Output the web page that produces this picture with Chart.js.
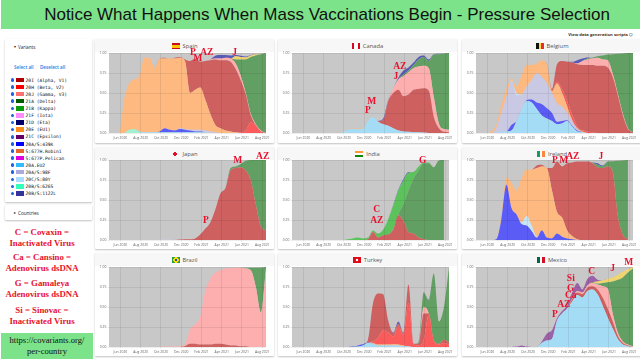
<!DOCTYPE html>
<html>
<head>
<meta charset="utf-8">
<title>Notice What Happens When Mass Vaccinations Begin</title>
<script src="https://cdn.jsdelivr.net/npm/chart.js@4"></script>
<style>
  html, body { margin: 0; padding: 0; background: #fff; overflow: hidden; }
  body { width: 640px; height: 359px; position: relative; font-family: "Open Sans", sans-serif; }
  #banner { position: absolute; left: 1px; top: 0; width: 639px; height: 29px; background: #7de38a;
    font: 17px/30px "Liberation Sans", sans-serif; color: #111; text-align: center; text-indent: 13px; white-space: nowrap; }
  #scripts { position: absolute; right: 7px; top: 31.5px; font: bold 4.2px/6px "Open Sans", sans-serif; color: #333; }
  .panel { position: absolute; background: #fff; box-shadow: 0 1px 2px rgba(0,0,0,.25); border-radius: 1px; }
  .side { position: absolute; left: 5px; width: 87px; background: #fff; box-shadow: 0 1px 2px rgba(0,0,0,.25); border-radius: 1px; }
  .head { position: absolute; left: 0; top: 0; right: 0; height: 13px; background: #f7f7f7; display: flex;
    align-items: center; justify-content: center; font-size: 5.8px; color: #555; }
  .flag { width: 8px; height: 6px; margin-right: 3px; }
  .panel canvas { position: absolute; left: 0; top: 0; }
  .row { position: absolute; left: 0; height: 7px; font: 4.6px/7px "DejaVu Sans Mono", monospace; color: #111; white-space: nowrap; }
  .dot { position: absolute; left: 5.6px; top: 1.6px; width: 3.6px; height: 3.6px; border-radius: 50%; background: #1f5fe0; }
  .swatch { position: absolute; left: 11px; top: 1.2px; width: 8px; height: 4.4px; }
  .name { position: absolute; left: 20.6px; top: 0; }
  .small { position: absolute; font-size: 4.6px; line-height: 6px; color: #222; white-space: nowrap; }
  .link { color: #1e78e6; font-weight: 600; }
  #vaccines div { position: absolute; left: 0; width: 84px; text-align: center; font: bold 8.8px/10px "Liberation Serif", serif; color: #e8112d; white-space: nowrap; }
  #url { position: absolute; left: 1px; top: 333px; width: 92px; height: 26px; background: #7de38a; text-align: center;
    font: 8.6px/11px "Liberation Serif", serif; color: #111; padding-top: 2px; box-sizing: border-box; }
</style>
</head>
<body>
<div id="banner">Notice What Happens When Mass Vaccinations Begin - Pressure Selection</div>
<div id="scripts">View data generation scripts ⬡</div>
<div class="side" id="variants" style="top:39px;height:163px"></div>
<div class="side" style="top:205px;height:15px">
  <div class="small" style="left:9px;top:4.5px;font-size:3.5px">▸</div>
  <div class="small" style="left:13px;top:4.5px">Countries</div>
</div>
<div id="vaccines"></div>
<div id="url">https://covariants.org/<br>per-country</div>
<script>
// x positions of the samples, in months counted from Jun 2020
const sampleMonths = [-1.13, -0.63, -0.13, 0.37, 0.87, 1.37, 1.87, 2.37, 2.87, 3.37, 3.87, 4.37, 4.87, 5.37, 5.87, 6.37,
  6.87, 7.37, 7.87, 8.37, 8.87, 9.37, 9.87, 10.37, 10.87, 11.37, 11.87, 12.37, 12.87, 13.37, 13.87, 14.37];
const tickMonths = [0, 2, 4, 6, 8, 10, 12, 14];
const tickLabels = ["Jun 2020", "Aug 2020", "Oct 2020", "Dec 2020", "Feb 2021", "Apr 2021", "Jun 2021", "Aug 2021"];
const shareTicks = [0, 0.25, 0.5, 0.75, 1];

const variantNames = ["20I (Alpha, V1)", "20H (Beta, V2)", "20J (Gamma, V3)", "21A (Delta)", "21B (Kappa)", "21F (Iota)",
  "21D (Eta)", "20E (EU1)", "21C (Epsilon)", "20A/S:439K", "S:677H.Robin1", "S:677P.Pelican", "20A.EU2", "20A/S:98F",
  "20C/S:80Y", "20B/S:626S", "20B/S:1122L"];
const variantColors = ["#b00000", "#ff0000", "#ff6f6f", "#005a00", "#0c9c0c", "#ff8cff", "#000068", "#ff8c1a", "#660066",
  "#0000ff", "#e8662a", "#e000e0", "#33bbff", "#aaaadd", "#aaddff", "#33ffbb", "#333399"];

// stack colours as they look in the plots
const mint = "#a3f0cf", eu2 = "#a5dcf5", k439 = "#5b5bf5", f98 = "#c9c9e4", y80 = "#c9e6f6", eu1 = "#fdb97f", beta = "#fb5b5b",
  alpha = "#ce6060", gamma = "#fdaeae", delta = "#629f62", kappa = "#5cc25c", iota = "#f2d46f", eta = "#5a5ab8", eps = "#9b62a8";

// Each array is the top edge of that layer in the stack. 0 = layer not there
const spainMint = [0, 0, 0, 0, .04, .05, .01];
const spainEu2 = [0, 0, 0, 0, .04, .05, .02, .01, .01, .01, .01, .01, .01, .01, .01, .01, .01, .01, .01, .01];
const spain439 = [0, 0, 0, 0, 0, 0, 0, 0, 0, 0, .02, .06, .04, .03, .05, .04, .03, .02, .02, .01];
const spain98 = [0, 0, 0, 0, 0, 0, 0, 0, 0, 0, 0, 0, 0, 0, .06, .05, .04, .04, .04, .03, .02, .01];
const spainEu1 = [0, 0, 0, .42, .62, .67, .71, .94, .94, .81, .93, .93, .93, .93, .94, .90, .50, .54, .57, .42, .24, .10, .06, .03, .02, .01];
const spainBeta = [0, 0, 0, 0, 0, 0, 0, 0, 0, 0, 0, 0, 0, 0, 0, 0, 0, 0, 0, 0, 0, 0, 0, 0, 0, 0, .01, .03, .13, .09, .02];
const spainAlpha = [0, 0, 0, 0, 0, 0, 0, 0, 0, 0, 0, .94, .93, .94, .95, .92, .90, .93, .89, .90, .91, .92, .91, .91, .89, .80, .66, .48, .22, .10, .02];
const spainGamma = [0, 0, 0, 0, 0, 0, 0, 0, 0, 0, 0, 0, 0, 0, 0, 0, 0, 0, 0, 0, .92, .93, .93, .94, .93, .87, .72, .50, .24, .11, .03];
const spainDelta = [0, 0, 0, 0, 0, 0, 0, 0, 0, 0, 0, 0, 0, 0, 0, 0, 0, 0, 0, 0, 0, 0, 0, 0, .93, .92, .92, .92, .95, .97, .985, 1];
const spainIota = [0, 0, 0, 0, 0, 0, 0, 0, 0, 0, 0, 0, 0, 0, 0, 0, 0, 0, 0, 0, 0, 0, 0, 0, 0, .96, .95, .945, .97, .98, .99, 1];
const spainEta = [0, 0, 0, 0, 0, 0, 0, 0, 0, 0, 0, 0, 0, 0, 0, 0, 0, 0, 0, 0, 0, .965, .975, .975, .97, .975, .965, .955, .975, .985, .99, 1];
const spainNotes = [["P", 7.15, 1.01], ["M", 7.64, .925], ["AZ", 8.53, 1], ["J", 11.28, 1]];

const canadaEu2 = [0, 0, 0, 0, 0, 0, 0, 0, 0, 0, .01, .04, .05, .05, .05, .15, .20, .14, .11, .09, .06, .03, .02, .015, .01, .01, .005];
const canadaEu1 = [0, 0, 0, 0, 0, 0, 0, 0, 0, 0, .015, .045, .055, .055, .055];
const canadaAlpha = [0, 0, 0, 0, 0, 0, 0, 0, 0, 0, 0, 0, 0, 0, 0, 0, .20, .15, .16, .40, .50, .54, .46, .48, .54, .55, .56, .53, .20, .06, .015, .01];
const canadaGamma = [0, 0, 0, 0, 0, 0, 0, 0, 0, 0, 0, 0, 0, 0, 0, 0, 0, 0, .16, .41, .56, .67, .71, .76, .81, .83, .84, .81, .45, .12, .05, .04];
const canadaDelta = [0, 0, 0, 0, 0, 0, 0, 0, 0, 0, 0, 0, 0, 0, 0, 0, 0, 0, 0, 0, 0, .67, .73, .78, .85, .92, .95, .90, .98, .985, .995, 1];
const canadaEta = [0, 0, 0, 0, 0, 0, 0, 0, 0, 0, 0, 0, 0, 0, 0, 0, 0, 0, .18, .42, .56, .69, .78, .82, .88, .95, .97, .92, .985, .99, .995, 1];
const canadaNotes = [["M", 6.75, .39], ["P", 6.36, .275], ["AZ", 9.51, .825], ["J", 9.12, .71]];

const belgiumEu2 = [0, 0, 0, 0, 0, .02, .02, .03, .15, .30, .40, .38, .30, .22, .18, .15, .11, .12, .15, .08, .02, .01];
const belgium439 = [0, 0, 0, 0, 0, 0, 0, .10, .11, .30, .41, .42, .38, .36, .31, .25, .14, .15, .16, .09, .03, .01];
const belgium98 = [0, 0, 0, 0, .06, .25, .45, .65, .47, .47, .58, .66, .75, .70, .62, .50, .37, .33, .25, .15, .05, .01];
const belgium80 = [0, 0, 0, 0, 0, 0, 0, .66, .50, .48];
const belgiumEu1 = [0, 0, 0, .02, .10, .35, .55, .68, .58, .72, .85, .85, .87, .91, .85, .52, .62, .50, .33, .16, .06, .02];
const belgiumBeta = [0, 0, 0, 0, 0, 0, 0, 0, 0, 0, 0, 0, 0, 0, 0, .53, .64, .55, .40, .23, .08, .03, .02, .01];
const belgiumAlpha = [0, 0, 0, 0, 0, 0, 0, 0, 0, 0, 0, 0, 0, 0, .86, .55, .86, .90, .89, .88, .86, .85, .85, .85, .84, .84, .82, .70, .47, .22, .05, .01];
const belgiumGamma = [0, 0, 0, 0, 0, 0, 0, 0, 0, 0, 0, 0, 0, 0, 0, 0, 0, 0, 0, .88, .87, .90, .92, .93, .94, .92, .91, .74, .49, .24, .06, .01];
const belgiumDelta = [0, 0, 0, 0, 0, 0, 0, 0, 0, 0, 0, 0, 0, 0, 0, 0, 0, 0, 0, 0, 0, 0, .93, .94, .96, .97, .98, .985, .99, .995, .999, 1];
const belgiumEta = [0, 0, 0, 0, 0, 0, 0, 0, 0, 0, 0, 0, 0, 0, 0, 0, 0, 0, 0, .89, .91, .93, .945];

const japan98 = [0, 0, 0, 0, 0, 0, 0, 0, 0, 0, .005, .005, .005];
const japanAlpha = [0, 0, 0, 0, 0, 0, 0, 0, 0, 0, 0, 0, 0, 0, .005, .01, .01, .02, .07, .14, .22, .38, .58, .65, .87, .90, .91, .87, .75, .44, .17, .12];
const japanDelta = [0, 0, 0, 0, 0, 0, 0, 0, 0, 0, 0, 0, 0, 0, 0, 0, 0, 0, 0, 0, 0, 0, 0, 0, .90, .92, .95, .99, 1, 1, 1, 1];
const japanNotes = [["P", 8.43, .24], ["M", 11.58, .99], ["AZ", 14.04, 1.04]];

const indiaAlpha = [0, 0, 0, 0, 0, 0, 0, 0, 0, 0, 0, 0, 0, 0, 0, .01, .10, .03, .06, .07, .13, .31, .24, .10, .08, .03, .01];
const indiaDelta = [0, 0, 0, 0, 0, 0, 0, 0, 0, 0, 0, 0, 0, 0, 0, 0, 0, 0, 0, 0, .14, .32, .45, .62, .77, .87, .96, .96, .91, .995, 1];
const indiaKappa = [0, 0, 0, 0, 0, 0, 0, 0, 0, 0, 0, .01, .02, .03, .02, .03, .12, .08, .13, .26, .43, .62, .74, .84, .85, .92, .97, .97];
const indiaEta = [0, 0, 0, 0, 0, 0, 0, 0, 0, 0, 0, 0, 0, 0, 0, 0, 0, 0, 0, 0, .44, .63, .76, .85];
const indiaNotes = [["G", 11.78, .99], ["C", 7.24, .375], ["AZ", 7.24, .24]];

const ireland439 = [0, 0, 0, 0, .01, .25, .69, .40, .32, .20, .18, .11, .03, .12, .03, .02, .08, .04, .02, .01];
const ireland80 = [0, 0, 0, 0, 0, 0, 0, 0, 0, .22, .30, .18, .04];
const irelandEu1 = [0, 0, 0, 0, 0, .30, .78, .72, .62, .78, .88, .88, .90, .92, .90, .62, .35, .28, .12, .05, .01];
const irelandAlpha = [0, 0, 0, 0, 0, 0, 0, 0, 0, 0, 0, 0, .93, .94, .88, .90, .98, .92, .96, .97, .98, .98, .98, .96, .91, .90, .92, .85, .30, .07, .01];
const irelandDelta = [0, 0, 0, 0, 0, 0, 0, 0, 0, 0, 0, 0, 0, 0, 0, 0, 0, 0, 0, 0, 0, 0, 0, .97, .94, .92, .98, .985, .99, .995, 1];
const irelandEta = [0, 0, 0, 0, 0, 0, 0, 0, 0, 0, 0, 0, 0, 0, 0, 0, 0, 0, 0, 0, 0, 0, 0, 0, .96, .93];
const irelandNotes = [["P", 6.65, .99], ["M", 7.54, .99], ["AZ", 8.43, 1.04], ["J", 11.19, 1.04]];

const brazilAlpha = [0, 0, 0, 0, 0, 0, 0, 0, 0, 0, 0, 0, 0, 0, 0, .01, .04, .04, .03, .03, .03, .04, .04, .03, .02, .02, .01, .01];
const brazilGamma = [0, 0, 0, 0, 0, 0, 0, 0, 0, 0, 0, .005, .005, .005, .01, .03, .22, .28, .38, .70, .85, .93, .96, .98, .985, .99, .99, .98, .96, .75, .43, .98];
const brazilDelta = [0, 0, 0, 0, 0, 0, 0, 0, 0, 0, 0, 0, 0, 0, 0, 0, 0, 0, 0, 0, 0, 0, 0, 0, 0, 0, 0, .99, .99, .99, .99, 1];

const turkeyEu2 = [0, 0, 0, 0, 0, 0, 0, 0, 0, 0, 0, 0, 0, .005, .02, .05, .04, .02, .02, .02, .02, .02, .01, .01];
const turkey439 = [0, 0, 0, 0, 0, 0, 0, 0, 0, 0, 0, 0, .005, .02, .035, .055];
const turkeyEu1 = [0, 0, 0, 0, 0, 0, 0, 0, 0, 0, 0, 0, 0, 0, 0, .06, .05, .03, .03, .03, .035, .03, .02, .01];
const turkeyBeta = [0, 0, 0, 0, 0, 0, 0, 0, 0, 0, 0, 0, 0, 0, 0, 0, .07, .12, .21, .18, .13, .26, .15, .55, .03, .02, .08, .40, .08, .03, .05, .03];
const turkeyAlpha = [0, 0, 0, 0, 0, 0, 0, 0, 0, 0, 0, 0, 0, 0, 0, .09, .55, .67, .66, .33, .17, .29, .17, .78, .04, .04, .42, .42, .05, .04, .09, .06];
const turkeyGamma = [0, 0, 0, 0, 0, 0, 0, 0, 0, 0, 0, 0, 0, 0, 0, 0, 0, 0, 0, 0, 0, 0, 0, 0, 0, 0, .50, .42];
const turkeyDelta = [0, 0, 0, 0, 0, 0, 0, 0, 0, 0, 0, 0, 0, 0, 0, 0, 0, 0, 0, 0, 0, 0, 0, 0, 0, .06, .68, .58, .92, .32, .50, 1];
const turkeyEta = [0, 0, 0, 0, 0, 0, 0, 0, 0, 0, 0, 0, 0, 0, 0, 0, 0, 0, 0, 0, .18, .32, .18, 0, 0, 0, .685, .59];

const mexicoEu2 = [0, 0, 0, 0, 0, 0, 0, 0, 0, 0, 0, 0, 0, .05, .08, .10, .33, .42, .48, .57, .65, .62, .70, .72, .66, .52, .37, .23, .10, .03, .01];
const mexicoAlpha = [0, 0, 0, 0, 0, 0, 0, 0, 0, 0, 0, 0, 0, 0, 0, 0, .33, .42, .48, .60, .68, .66, .74, .76, .72, .62, .48, .32, .14, .05, .02];
const mexicoGamma = [0, 0, 0, 0, 0, 0, 0, 0, 0, 0, 0, 0, 0, 0, 0, 0, 0, 0, 0, .61, .70, .68, .77, .80, .78, .76, .73, .42, .18, .07, .03, .01];
const mexicoDelta = [0, 0, 0, 0, 0, 0, 0, 0, 0, 0, 0, 0, 0, 0, 0, 0, 0, 0, 0, 0, 0, 0, 0, .81, .79, .80, .81, .82, .84, .87, .93, .98];
const mexicoIota = [0, 0, 0, 0, 0, 0, 0, 0, 0, 0, 0, 0, 0, 0, 0, 0, 0, 0, 0, 0, 0, 0, 0, 0, .82, .83, .85, .87, .90, .94, .97, 1];
const mexicoEps = [0, 0, 0, 0, 0, 0, 0, 0, .005, .02, .005, 0, 0, .07, .17, .21, .36, .45, .52, .68, .80, .72, .85, .89, .84, .83];
const mexicoNotes = [["P", 6.65, .41], ["AZ", 7.54, .525], ["Ca", 8.23, .64], ["G", 8.23, .725], ["Si", 8.23, .85], ["C", 10.3, .94], ["J", 12.37, .975], ["M", 13.94, 1.06]];

const panels = [
  { name: "Spain", flag: "linear-gradient(#c60b1e 25%,#ffc400 25% 75%,#c60b1e 75%)", x: 95, y: 39, w: 179, top: 14, bottom: 10, notes: spainNotes,
    layers: [[mint, spainMint], [eu2, spainEu2], [k439, spain439], [f98, spain98], [eu1, spainEu1], [beta, spainBeta], [alpha, spainAlpha], [gamma, spainGamma], [delta, spainDelta], [iota, spainIota], [eta, spainEta]] },
  { name: "Canada", flag: "linear-gradient(90deg,#d80621 25%,#fff 25% 75%,#d80621 75%)", x: 278, y: 39, w: 179, top: 14, bottom: 10, notes: canadaNotes,
    layers: [[eu2, canadaEu2], [eu1, canadaEu1], [alpha, canadaAlpha], [gamma, canadaGamma], [delta, canadaDelta], [eta, canadaEta]] },
  { name: "Belgium", flag: "linear-gradient(90deg,#111 33%,#fae042 33% 66%,#ed2939 66%)", x: 462, y: 39, w: 180, top: 14, bottom: 10, notes: [],
    layers: [[eu2, belgiumEu2], [k439, belgium439], [f98, belgium98], [y80, belgium80], [eu1, belgiumEu1], [beta, belgiumBeta], [alpha, belgiumAlpha], [gamma, belgiumGamma], [delta, belgiumDelta], [eta, belgiumEta]] },
  { name: "Japan", flag: "radial-gradient(circle,#e0102a 1.6px,#f7f7f7 1.9px)", x: 95, y: 147, w: 179, top: 13, bottom: 9, notes: japanNotes,
    layers: [[f98, japan98], [alpha, japanAlpha], [delta, japanDelta]] },
  { name: "India", flag: "linear-gradient(#ff9933 33%,#fff 33% 66%,#138808 66%)", x: 278, y: 147, w: 179, top: 13, bottom: 9, notes: indiaNotes, last: 30,
    layers: [[alpha, indiaAlpha], [delta, indiaDelta], [kappa, indiaKappa], [eta, indiaEta]] },
  { name: "Ireland", flag: "linear-gradient(90deg,#169b62 33%,#fff 33% 66%,#ff883e 66%)", x: 462, y: 147, w: 180, top: 13, bottom: 9, notes: irelandNotes, last: 30,
    layers: [[k439, ireland439], [y80, ireland80], [eu1, irelandEu1], [alpha, irelandAlpha], [delta, irelandDelta], [eta, irelandEta]] },
  { name: "Brazil", flag: "radial-gradient(circle,#2b49a3 1.2px,#ffdf00 1.4px 2.6px,#229e45 3px)", x: 95, y: 253, w: 179, top: 14, bottom: 9, notes: [],
    layers: [[alpha, brazilAlpha], [gamma, brazilGamma], [delta, brazilDelta]] },
  { name: "Turkey", flag: "radial-gradient(circle,#fff 1.3px,#e30a17 1.6px)", x: 278, y: 253, w: 179, top: 14, bottom: 9, notes: [],
    layers: [[eu2, turkeyEu2], [k439, turkey439], [eu1, turkeyEu1], [beta, turkeyBeta], [alpha, turkeyAlpha], [gamma, turkeyGamma], [delta, turkeyDelta], [eta, turkeyEta]] },
  { name: "Mexico", flag: "linear-gradient(90deg,#006847 33%,#fff 33% 66%,#ce1126 66%)", x: 462, y: 253, w: 180, top: 14, bottom: 9, notes: mexicoNotes,
    layers: [[eu2, mexicoEu2], [alpha, mexicoAlpha], [gamma, mexicoGamma], [delta, mexicoDelta], [iota, mexicoIota], [eps, mexicoEps]] },
];

const vaccineLines = [["C = Covaxin =", 227], ["Inactivated Virus", 238], ["Ca = Cansino =", 251.5], ["Adenovirus dsDNA", 262.5],
  ["G = Gamaleya", 278], ["Adenovirus dsDNA", 289], ["Si = Sinovac =", 305], ["Inactivated Virus", 315.5]];

// grey plot background, shows where no variant is drawn
const plotBackground = {
  id: "plotBackground",
  beforeDraw(chart) {
    const a = chart.chartArea;
    chart.ctx.fillStyle = "#c8c8c8";
    chart.ctx.fillRect(a.left, a.top, a.right - a.left, a.bottom - a.top);
  },
};

// red vaccine letters, placed on the chart's own scales
const vaccineNotes = {
  id: "vaccineNotes",
  afterDraw(chart, args, opts) {
    const ctx = chart.ctx;
    ctx.save();
    ctx.font = 'bold 9.5px "Liberation Serif", serif';
    ctx.fillStyle = "#e8112d";
    ctx.textAlign = "center";
    ctx.textBaseline = "middle";
    opts.items.forEach(function (n) {
      ctx.fillText(n[0], chart.scales.x.getPixelForValue(n[1]), chart.scales.y.getPixelForValue(n[2]));
    });
    ctx.restore();
  },
};

function buildDatasets(panel) {
  const lastIndex = panel.last === undefined ? 31 : panel.last;
  let below = sampleMonths.map(() => 0);
  return panel.layers.map(function (layer, n) {
    const top = below.map((v, i) => Math.max(v, layer[1][i] || 0));
    below = top;
    return {
      data: sampleMonths.map((m, i) => ({ x: m, y: i > lastIndex ? null : top[i] })),
      backgroundColor: layer[0],
      borderWidth: 0,
      pointRadius: 0,
      fill: n === 0 ? "origin" : "-1",
      cubicInterpolationMode: "monotone",
    };
  });
}

function drawPanel(panel) {
  const card = document.createElement("div");
  card.className = "panel";
  card.style.cssText = `left:${panel.x}px;top:${panel.y}px;width:${panel.w}px;height:${80 + panel.top + panel.bottom}px`;
  card.innerHTML = `<div class="head"><div class="flag" style="background:${panel.flag}"></div>${panel.name}</div>`;
  const canvas = document.createElement("canvas");
  // canvas stops just past the plot, the last tick label gets cut like in the original
  canvas.width = 14 + 157 + 3;
  canvas.height = 80 + panel.top + panel.bottom;
  card.appendChild(canvas);
  document.body.appendChild(card);

  new Chart(canvas.getContext("2d"), {
    type: "line",
    data: { datasets: buildDatasets(panel) },
    plugins: [plotBackground, vaccineNotes],
    options: {
      responsive: false,
      animation: false,
      layout: { padding: { left: 0, right: 3, top: panel.top, bottom: 0 } },
      plugins: {
        legend: { display: false },
        title: { display: false },
        tooltip: { enabled: false },
        vaccineNotes: { items: panel.notes },
      },
      scales: {
        x: {
          type: "linear",
          min: sampleMonths[0],
          max: sampleMonths[31],
          afterBuildTicks(scale) { scale.ticks = tickMonths.map((v) => ({ value: v })); },
          afterFit(scale) { scale.height = panel.bottom; scale.paddingLeft = 0; scale.paddingRight = 0; },
          grid: { color: "rgba(0,0,0,0.07)", lineWidth: 1, z: 1, tickLength: 1.5 },
          border: { display: false },
          ticks: {
            autoSkip: false,
            maxRotation: 0,
            padding: 1,
            color: "#666",
            font: { size: 3.4, family: "'Open Sans', sans-serif" },
            callback(value) { return tickLabels[tickMonths.indexOf(value)]; },
          },
        },
        y: {
          min: 0,
          max: 1,
          afterBuildTicks(scale) { scale.ticks = shareTicks.map((v) => ({ value: v })); },
          afterFit(scale) { scale.width = 14; scale.paddingTop = 0; scale.paddingBottom = 0; },
          grid: { color: "rgba(0,0,0,0.07)", lineWidth: 1, z: 1, tickLength: 1.5 },
          border: { display: false },
          ticks: {
            padding: 1,
            color: "#666",
            font: { size: 3.4, family: "'Open Sans', sans-serif" },
            callback(value) { return value.toFixed(2); },
          },
        },
      },
    },
  });
}

function drawSidebar() {
  const box = document.getElementById("variants");
  let html = '<div class="small" style="left:9px;top:5px;font-size:3.5px">▾</div><div class="small" style="left:13px;top:5px">Variants</div>' +
    '<div class="small link" style="left:9px;top:25px">Select all</div><div class="small link" style="left:35px;top:25px">Deselect all</div>';
  variantNames.forEach(function (name, i) {
    html += `<div class="row" style="top:${37.6 + i * 7.1}px"><span class="dot"></span><span class="swatch" style="background:${variantColors[i]}"></span><span class="name">${name}</span></div>`;
  });
  box.innerHTML = html;

  const vaccines = document.getElementById("vaccines");
  vaccineLines.forEach(function (line) {
    const d = document.createElement("div");
    d.textContent = line[0];
    d.style.top = line[1] + "px";
    vaccines.appendChild(d);
  });
}

document.addEventListener("DOMContentLoaded", function () {
  drawSidebar();
  panels.forEach(drawPanel);
});
</script>
</body>
</html>
